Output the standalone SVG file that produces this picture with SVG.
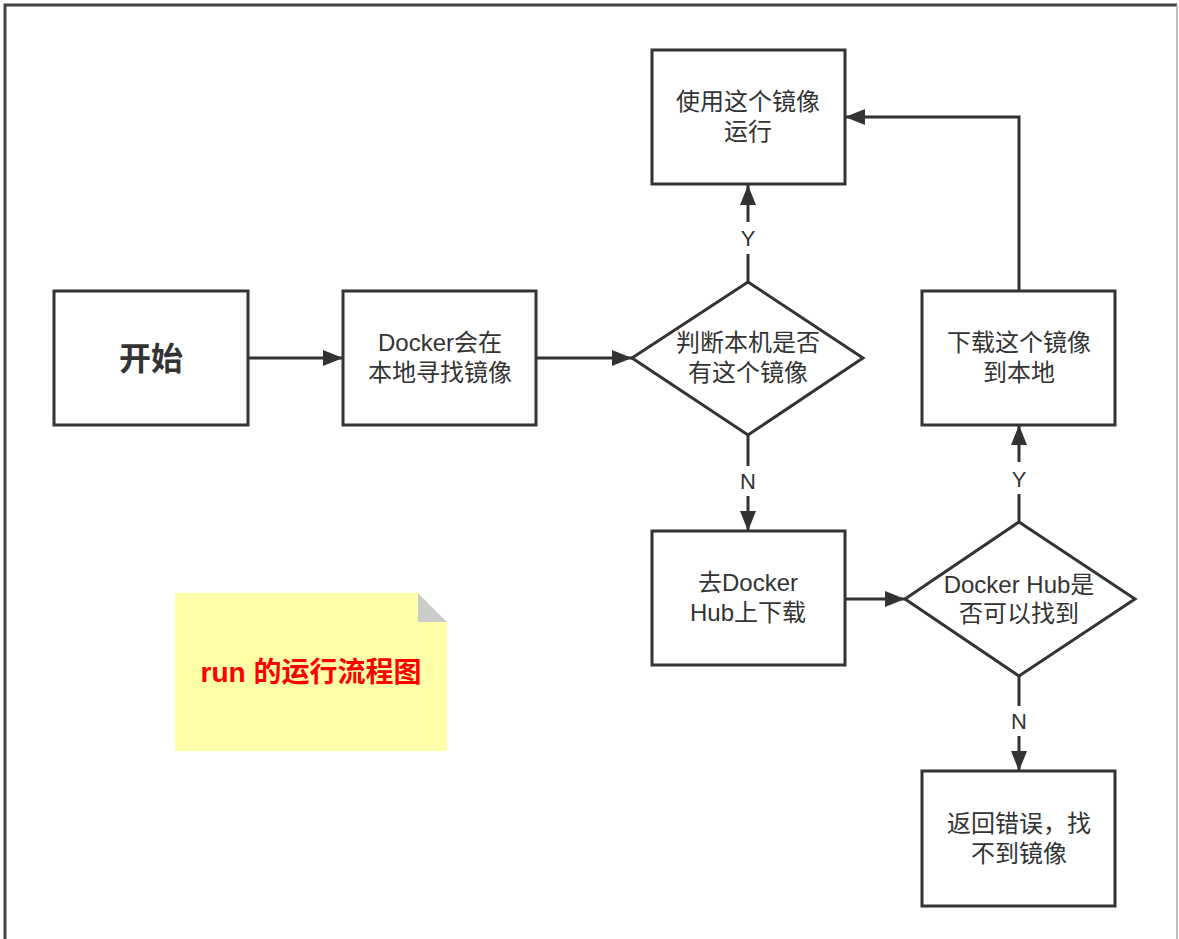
<svg xmlns="http://www.w3.org/2000/svg" width="1179" height="939" viewBox="0 0 1179 939">
<style>
.box{fill:#fff;stroke:#333;stroke-width:3}
.edge{fill:none;stroke:#333;stroke-width:3}
.t{font-family:"Liberation Sans","Noto Sans CJK SC",sans-serif;font-size:24px;fill:#333;text-anchor:middle}
.lbl{font-family:"Liberation Sans","Noto Sans CJK SC",sans-serif;font-size:22px;fill:#333;text-anchor:middle}
</style>
<defs>
<marker id="ah" viewBox="0 0 20 16" refX="20" refY="8" markerWidth="20" markerHeight="16" markerUnits="userSpaceOnUse" orient="auto">
<path d="M0,0 L20,8 L0,16 Z" fill="#333"/>
</marker>
</defs>
<rect x="0" y="0" width="1179" height="939" fill="#fff"/>
<path d="M5,939 V5 H1177" fill="none" stroke="#444" stroke-width="3"/>
<line x1="1177" y1="5" x2="1177" y2="939" stroke="#aaa" stroke-width="1.5"/>

<g id="connectors">
<line class="edge" x1="248" y1="358" x2="343" y2="358" marker-end="url(#ah)"/>
<line class="edge" x1="536" y1="358" x2="632" y2="358" marker-end="url(#ah)"/>
<line class="edge" x1="748" y1="282" x2="748" y2="254"/>
<line class="edge" x1="748" y1="222" x2="748" y2="185" marker-end="url(#ah)"/>
<line class="edge" x1="748" y1="435" x2="748" y2="466"/>
<line class="edge" x1="748" y1="496" x2="748" y2="531" marker-end="url(#ah)"/>
<line class="edge" x1="845" y1="599" x2="905" y2="599" marker-end="url(#ah)"/>
<line class="edge" x1="1019" y1="522" x2="1019" y2="494"/>
<line class="edge" x1="1019" y1="462" x2="1019" y2="425" marker-end="url(#ah)"/>
<line class="edge" x1="1019" y1="676" x2="1019" y2="706"/>
<line class="edge" x1="1019" y1="736" x2="1019" y2="771" marker-end="url(#ah)"/>
<polyline class="edge" points="1019,291 1019,117 845,117" marker-end="url(#ah)"/>
<text class="lbl" x="748" y="246">Y</text>
<text class="lbl" x="748" y="489">N</text>
<text class="lbl" x="1019" y="487">Y</text>
<text class="lbl" x="1019" y="729">N</text>
</g>

<g id="start">
<rect class="box" x="54" y="291" width="194" height="134"/>
<text x="151" y="370" font-family="'Noto Sans CJK SC',sans-serif" font-size="32" font-weight="bold" fill="#333" text-anchor="middle">开始</text>
</g>
<g id="search">
<rect class="box" x="343" y="291" width="193" height="134"/>
<text class="t" x="440" y="351">Docker会在</text>
<text class="t" x="440" y="381">本地寻找镜像</text>
</g>
<g id="check-local">
<polygon class="box" points="748,282 863,358 748,435 632,358"/>
<text class="t" x="748" y="351">判断本机是否</text>
<text class="t" x="748" y="381">有这个镜像</text>
</g>
<g id="run">
<rect class="box" x="652" y="50" width="193" height="134"/>
<text class="t" x="748" y="110">使用这个镜像</text>
<text class="t" x="748" y="140">运行</text>
</g>
<g id="download-local">
<rect class="box" x="922" y="291" width="193" height="134"/>
<text class="t" x="1019" y="351">下载这个镜像</text>
<text class="t" x="1019" y="381">到本地</text>
</g>
<g id="hub">
<rect class="box" x="652" y="531" width="193" height="134"/>
<text class="t" x="748" y="591">去Docker</text>
<text class="t" x="748" y="621">Hub上下载</text>
</g>
<g id="check-hub">
<polygon class="box" points="1019,522 1135,599 1019,676 905,599"/>
<text class="t" x="1019" y="593">Docker Hub是</text>
<text class="t" x="1019" y="622">否可以找到</text>
</g>
<g id="error">
<rect class="box" x="922" y="771" width="193" height="135"/>
<text class="t" x="1019" y="832">返回错误，找</text>
<text class="t" x="1019" y="862">不到镜像</text>
</g>
<g id="note">
<polygon points="175,593 418,593 447,622 447,751 175,751" fill="#ffff99" opacity="0.85"/>
<polygon points="418,593 447,622 418,622" fill="#cccccc"/>
<text x="311" y="682" font-family="'Liberation Sans','Noto Sans CJK SC',sans-serif" font-size="28" font-weight="bold" fill="#ff0000" text-anchor="middle">run 的运行流程图</text>
</g>
</svg>
